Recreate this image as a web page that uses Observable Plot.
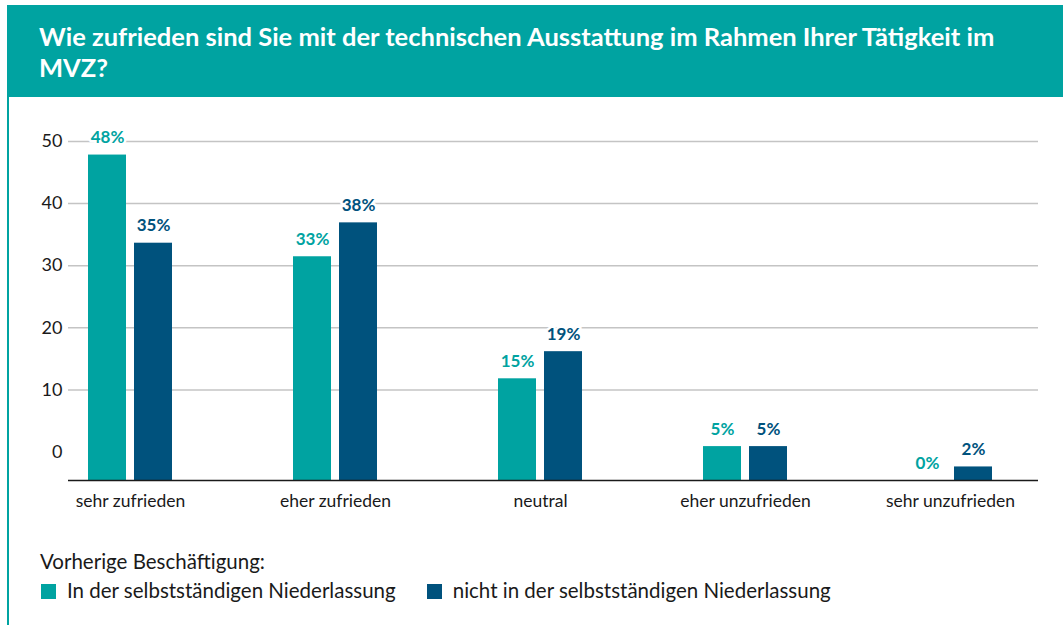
<!DOCTYPE html>
<html><head><meta charset="utf-8">
<script src="https://cdn.jsdelivr.net/npm/d3@7"></script>
<script src="https://cdn.jsdelivr.net/npm/@observablehq/plot@0.6"></script>
<style>
body{margin:0;background:#fff;font-family:Lato,"Noto Sans",sans-serif;}
#page{position:relative;width:1063px;height:625px;overflow:hidden;background:#fff;}
#header{position:absolute;left:7px;top:5px;right:0;height:92px;background:#00a3a1;}
#title{position:absolute;left:39px;top:21px;width:1020px;color:#fff;font-weight:700;font-size:25.5px;line-height:31px;white-space:nowrap;}
#border{position:absolute;left:7px;top:97px;width:2px;bottom:0;background:#00a3a1;}
#chart{position:absolute;left:0;top:100px;width:1063px;height:430px;}
#chart svg{position:absolute;left:0;top:0;overflow:visible;}
#legendTitle{position:absolute;left:40px;top:549px;font-size:20.5px;line-height:24px;color:#1a1a1a;}
#legendRow{position:absolute;left:41px;top:578px;display:flex;font-size:20.5px;line-height:24px;color:#1a1a1a;}
.item{display:flex;align-items:flex-start;margin-right:31px;}
.sw{width:15px;height:15px;margin-top:6px;margin-right:11px;}
</style></head>
<body>
<div id="page">
  <div id="header"></div>
  <div id="title">Wie zufrieden sind Sie mit der technischen Ausstattung im Rahmen Ihrer Tätigkeit im<br>MVZ?</div>
  <div id="border"></div>
  <div id="chart"></div>
  <div id="legendTitle">Vorherige Beschäftigung:</div>
  <div id="legendRow"></div>
</div>
<script>
const categories = ["sehr zufrieden", "eher zufrieden", "neutral", "eher unzufrieden", "sehr unzufrieden"];
const seriesNames = ["In der selbstständigen Niederlassung", "nicht in der selbstständigen Niederlassung"];
const selbststaendig = [48, 33, 15, 5, 0];
const nichtSelbststaendig = [35, 38, 19, 5, 2];
const yTicks = [0, 10, 20, 30, 40, 50];
const gridValues = [10, 20, 30, 40, 50];
const colors = ["#00a3a1", "#00527d"];

const data = [];
categories.forEach((c, i) => {
  data.push({cat: c, series: seriesNames[0], value: selbststaendig[i]});
  data.push({cat: c, series: seriesNames[1], value: nichtSelbststaendig[i]});
});
const s0 = data.filter(d => d.series === seriesNames[0]);
const s1 = data.filter(d => d.series === seriesNames[1]);

const W = 1063, H = 430;
const font = "Lato, 'Noto Sans', sans-serif";

// Axis layer: grid lines and y tick labels
const axisPlot = Plot.plot({
  width: W, height: H,
  marginLeft: 68, marginRight: 25, marginTop: 41, marginBottom: 78.5,
  style: {fontFamily: font, background: "transparent", color: "#1a1a1a"},
  y: {domain: [0, 50]},
  marks: [
    Plot.ruleY(gridValues, {stroke: "#c4c4c4", strokeWidth: 1.5}),
    Plot.axisY(yTicks, {tickSize: 0, tickPadding: 6, fontSize: 18, label: null, fill: "#1a1a1a"})
  ]
});

// Bar layer
const bandOpts = {domain: categories, paddingInner: 0.552, paddingOuter: 0.1395, align: 0.28};
const barPlot = Plot.plot({
  width: W, height: H,
  marginLeft: 68, marginRight: 25, marginTop: 41, marginBottom: 50,
  style: {fontFamily: font, background: "transparent", color: "#1a1a1a"},
  x: bandOpts,
  y: {domain: [0, 50], axis: null},
  color: {domain: seriesNames, range: colors},
  marks: [
    Plot.barY(s0, {x: "cat", y: "value", fill: "series", insetLeft: 4, insetRight: 50}),
    Plot.barY(s1, {x: "cat", y: "value", fill: "series", insetLeft: 50, insetRight: 4}),
    Plot.text(s0, {x: "cat", y: "value", text: d => d.value + "%", fill: "series", dx: -23, dy: -12, lineAnchor: "bottom", fontSize: 17, fontWeight: 700, stroke: "white", strokeWidth: 5}),
    Plot.text(s1, {x: "cat", y: "value", text: d => d.value + "%", fill: "series", dx: 23, dy: -12, lineAnchor: "bottom", fontSize: 17, fontWeight: 700, stroke: "white", strokeWidth: 5}),
    Plot.ruleY([0], {stroke: "#1a1a1a", strokeWidth: 1.5}),
    Plot.axisX({tickSize: 0, tickPadding: 14, fontSize: 17.5, label: null, fill: "#1a1a1a"})
  ]
});

const chart = document.getElementById("chart");
chart.appendChild(axisPlot);
chart.appendChild(barPlot);

const row = document.getElementById("legendRow");
seriesNames.forEach((s, i) => {
  const item = document.createElement("div");
  item.className = "item";
  const sw = document.createElement("div");
  sw.className = "sw";
  sw.style.background = colors[i];
  const t = document.createElement("span");
  t.textContent = s;
  item.appendChild(sw);
  item.appendChild(t);
  row.appendChild(item);
});
</script>
</body></html>
